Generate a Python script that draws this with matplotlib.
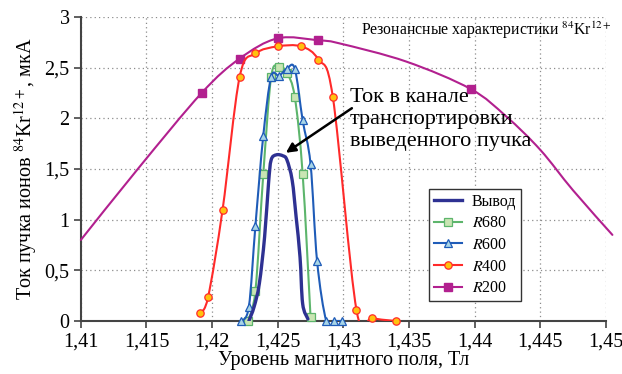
import numpy as np
import matplotlib
matplotlib.use("Agg")
import matplotlib.pyplot as plt
from matplotlib.path import Path
from matplotlib.patches import PathPatch
from matplotlib.lines import Line2D
from matplotlib.ticker import FuncFormatter

plt.rcParams['font.family'] = ['Liberation Serif', 'DejaVu Serif']
plt.rcParams['mathtext.fontset'] = 'stix'

# ---------------- data ----------------
vyvod_x = [1.4228, 1.4232, 1.4236, 1.4240, 1.4243, 1.4245, 1.4249, 1.4254,
           1.4257, 1.4261, 1.4264, 1.4267, 1.4269, 1.4273]
vyvod_y = [0.00, 0.14, 0.37, 0.83, 1.36, 1.59, 1.64, 1.63,
           1.59, 1.39, 1.03, 0.63, 0.17, 0.02]

r680_x = [1.4227, 1.4233, 1.4239, 1.4245, 1.4251, 1.4257, 1.4263, 1.4269, 1.4275]
r680_y = [0.00, 0.30, 1.45, 2.41, 2.51, 2.45, 2.21, 1.45, 0.04]

r600_x = [1.4222, 1.4228, 1.4233, 1.4239, 1.4245, 1.4251, 1.4257, 1.4263,
          1.4269, 1.4275, 1.4280, 1.4287, 1.4293, 1.4299]
r600_y = [0.00, 0.14, 0.94, 1.83, 2.41, 2.42, 2.49, 2.49,
          1.98, 1.55, 0.59, 0.00, 0.00, 0.00]

r400_x = [1.4191, 1.4197, 1.4208, 1.4221, 1.4233, 1.4250, 1.4268, 1.4281,
          1.4292, 1.4310, 1.4322, 1.4340]
r400_y = [0.08, 0.24, 1.10, 2.41, 2.64, 2.71, 2.71, 2.58,
          2.21, 0.11, 0.03, 0.00]

r200_x = [1.4100, 1.4144, 1.4192, 1.4221, 1.4250, 1.4281, 1.4297, 1.4348,
          1.4397, 1.4424, 1.4450, 1.4475, 1.4505]
r200_y = [0.80, 1.51, 2.25, 2.59, 2.79, 2.77, 2.74, 2.56,
          2.29, 2.02, 1.69, 1.29, 0.85]
r200_marked = [2, 3, 4, 5, 8]

x_ticks = [1.41, 1.415, 1.42, 1.425, 1.43, 1.435, 1.44, 1.445, 1.45]
y_ticks = [0, 0.5, 1, 1.5, 2, 2.5, 3]

series_labels = ['Вывод', '$R$680', '$R$600', '$R$400', '$R$200']


def smooth_path(xs, ys):
    """Bezier path (Catmull-Rom style) through the given points."""
    P = np.column_stack([xs, ys]).astype(float)
    n = len(P)
    verts = [P[0]]
    codes = [Path.MOVETO]
    for i in range(n - 1):
        p0 = P[i - 1] if i > 0 else P[i]
        p1 = P[i]
        p2 = P[i + 1]
        p3 = P[i + 2] if i + 2 < n else P[i + 1]
        c1 = p1 + (p2 - p0) / 6.0
        c2 = p2 - (p3 - p1) / 6.0
        verts += [c1, c2, p2]
        codes += [Path.CURVE4] * 3
    return Path(verts, codes)


fig = plt.figure(figsize=(6.22, 3.74), dpi=100)
ax = fig.add_axes([0.130, 0.1417, 0.844, 0.8128])

ax.set_xlim(1.41, 1.45)
ax.set_ylim(0, 3)

c200 = '#B2208F'
c400 = '#FF2A2A'
c600 = '#1F5CB8'
c680 = '#5DB56C'
cvyv = '#2E3192'

def draw(xs, ys, color, lw, z, clip=True):
    patch = PathPatch(smooth_path(xs, ys), facecolor='none', edgecolor=color,
                      lw=lw, zorder=z, capstyle='round', joinstyle='round')
    patch.set_clip_on(clip)
    ax.add_patch(patch)

ms200, ms400, ms680, ms600 = 6.0, 5.3, 5.3, 6.0

# R200
draw(r200_x, r200_y, c200, 1.5, 3, clip=False)
ax.plot([r200_x[i] for i in r200_marked], [r200_y[i] for i in r200_marked],
        ls='none', marker='s', ms=ms200, mfc=c200, mec=c200, zorder=4, clip_on=False)
# R400
draw(r400_x, r400_y, c400, 1.5, 5)
ax.plot(r400_x, r400_y, ls='none', marker='o', ms=ms400, mfc='#FFC20E', mec=c400,
        mew=0.9, zorder=6, clip_on=False)
# R680
draw(r680_x, r680_y, c680, 1.5, 7)
ax.plot(r680_x, r680_y, ls='none', marker='s', ms=ms680, mfc='#C9E5B3', mec=c680,
        mew=0.9, zorder=8, clip_on=False)
# R600
draw(r600_x, r600_y, c600, 1.5, 9)
ax.plot(r600_x, r600_y, ls='none', marker='^', ms=ms600, mfc='#A8D5E6', mec=c600,
        mew=0.9, zorder=10, clip_on=False)
# Vyvod
draw(vyvod_x, vyvod_y, cvyv, 2.4, 11)

# axes styling
ax.xaxis.set_major_locator(plt.FixedLocator(x_ticks))
ax.yaxis.set_major_locator(plt.FixedLocator(y_ticks))
fmt = FuncFormatter(lambda v, p: ('%g' % round(v, 4)).replace('.', ','))
ax.xaxis.set_major_formatter(fmt)
ax.yaxis.set_major_formatter(fmt)
ax.tick_params(axis='both', direction='out', length=5, width=1.2,
               color='#444444', labelsize=14.5, pad=3)
ax.grid(True, ls=(0, (1, 2.5)), color='#8c8c8c', lw=0.9)
ax.set_axisbelow(True)
for s in ['top', 'right']:
    ax.spines[s].set_visible(False)
for s in ['left', 'bottom']:
    ax.spines[s].set_color('#444444')
    ax.spines[s].set_linewidth(1.5)

ax.set_xlabel('Уровень магнитного поля, Тл', fontsize=14.5, labelpad=0)
ax.set_ylabel('Ток пучка ионов $^{84}$Kr$^{12+}$, мкА', fontsize=14.5, labelpad=4)

ax.text(1.012, 0.941, 'Резонансные характеристики $^{84}$Kr$^{12+}$',
        transform=ax.transAxes, ha='right', va='baseline', fontsize=11.3)

ax.text(1.4305, 2.30, 'Ток в канале\nтранспортировки\nвыведенного пучка',
        ha='left', va='top', fontsize=16, linespacing=1.22, zorder=12)
ax.annotate('', xy=(1.42562, 1.66), xytext=(1.43065, 2.10),
            arrowprops=dict(arrowstyle='-|>', color='k', lw=1.8,
                            mutation_scale=14, shrinkA=0, shrinkB=0), zorder=12)

handles = [
    Line2D([], [], color=cvyv, lw=2.4),
    Line2D([], [], color=c680, lw=1.5, marker='s', ms=ms680, mfc='#C9E5B3', mec=c680, mew=0.9),
    Line2D([], [], color=c600, lw=1.5, marker='^', ms=ms600, mfc='#A8D5E6', mec=c600, mew=0.9),
    Line2D([], [], color=c400, lw=1.5, marker='o', ms=ms400, mfc='#FFC20E', mec=c400, mew=0.9),
    Line2D([], [], color=c200, lw=1.5, marker='s', ms=ms200, mfc=c200, mec=c200),
]
leg = ax.legend(handles, series_labels, loc='upper left',
                bbox_to_anchor=(0.663, 0.434), fontsize=11.5, frameon=True,
                fancybox=False, framealpha=1, edgecolor='#333333',
                borderpad=0.3, labelspacing=0.35, handlelength=1.8,
                handletextpad=0.6, borderaxespad=0)
leg.get_frame().set_linewidth(1.0)
leg.set_zorder(20)

fig.savefig('out.png', dpi=100)
